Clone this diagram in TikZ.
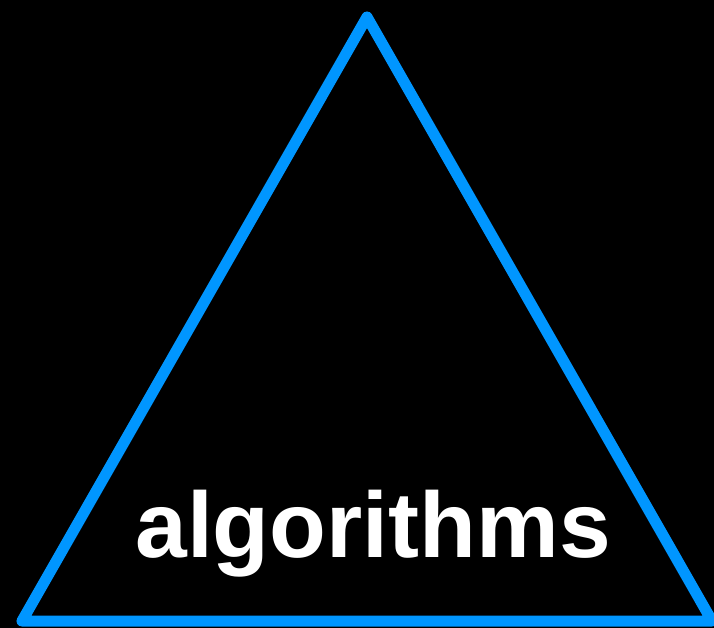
\documentclass[tikz,border=0pt]{standalone}
\usepackage{fontspec}
\setmainfont{Liberation Sans}
\definecolor{triblue}{RGB}{0,150,255}
\begin{document}
\begin{tikzpicture}[x=1pt,y=-1pt,
  edge/.style={draw=triblue,line width=11pt,line join=round,line cap=round},
  label/.style={text=white,font=\fontsize{93}{100}\selectfont\bfseries,inner sep=0pt,anchor=base}]
\fill[black] (0,0) rectangle (714,628);
\useasboundingbox (0,0) rectangle (714,628);
\begin{scope}
\clip (0,0) rectangle (714,628);
\coordinate (top) at (367,17);
\coordinate (bl) at (22,621);
\coordinate (br) at (712,621);
\draw[edge] (top) -- (bl) -- (br) -- cycle;
\end{scope}
\node[label] (t) at (373,557) {algorithms};
\end{tikzpicture}
\end{document}
